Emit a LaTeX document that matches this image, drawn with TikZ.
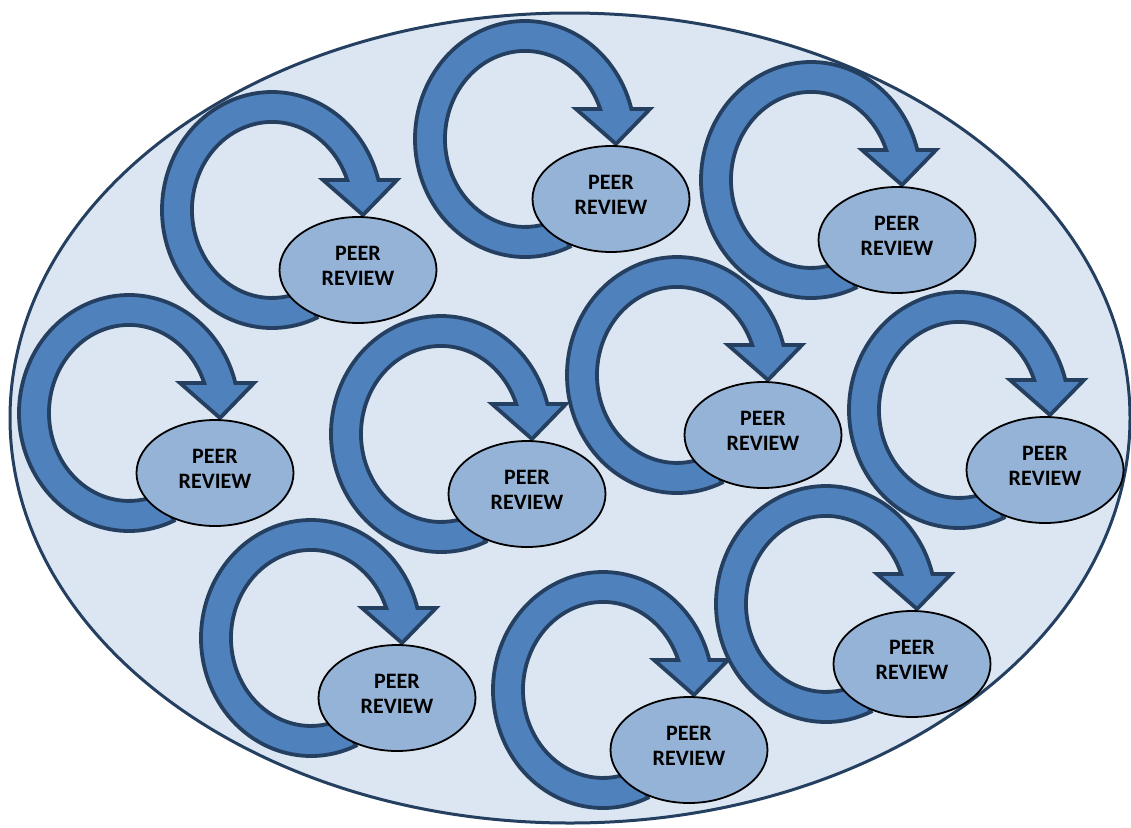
\documentclass[tikz,border=0pt]{standalone}
\usepackage{fontspec}
\setmainfont{Carlito}
\usetikzlibrary{shapes.geometric}

\definecolor{bgfill}{HTML}{DCE6F2}
\definecolor{arrowfill}{HTML}{4F81BD}
\definecolor{darkline}{HTML}{243F60}
\definecolor{reviewfill}{HTML}{95B3D7}

\tikzset{
  cycle arrow/.style={fill=arrowfill, draw=darkline, line width=3.8pt, line join=miter},
  review/.style={ellipse, draw=black, line width=1.8pt, fill=reviewfill,
    minimum width=157pt, minimum height=106pt, inner sep=0pt},
  review text/.style={align=center, inner sep=0pt,
    font=\bfseries\fontsize{22}{25.5}\selectfont},
  outer ring/.style={draw=darkline, fill=bgfill, line width=3pt},
}

% one circular arrow ending on a "PEER REVIEW" ellipse, placed by the ellipse centre
\newcommand\peergroup[3]{%
  \begin{scope}[shift={(#2,#3)}]
    \path[cycle arrow]
      ({-86+110*cos(66)},{-60+118*sin(66)})
      arc[start angle=66, end angle=345.3, x radius=110, y radius=118]
      -- (39,-90) -- (5,-55) -- (-35,-90) -- ({-86+80*cos(340.1)},-90)
      arc[start angle=340.1, end angle=66, x radius=80, y radius=88]
      -- cycle;
    \node[review] (#1) at (0,0) {};
    \node[review text] (#1-label) at (0,-4) {PEER\\REVIEW};
  \end{scope}}

\begin{document}
\begin{tikzpicture}[x=1pt, y=-1pt]
  \useasboundingbox (0,0) rectangle (1131,827);
  \path[outer ring] (570,418) ellipse [x radius=560, y radius=405];

  \peergroup{pr2}{611}{199}
  \peergroup{pr3}{897}{240}
  \peergroup{pr1}{358}{270}
  \peergroup{pr4}{215}{473}
  \peergroup{pr5}{527}{494}
  \peergroup{pr6}{763}{435}
  \peergroup{pr7}{1045}{470}
  \peergroup{pr8}{397}{698}
  \peergroup{pr9}{689}{750}
  \peergroup{pr10}{912}{664}
\end{tikzpicture}
\end{document}
